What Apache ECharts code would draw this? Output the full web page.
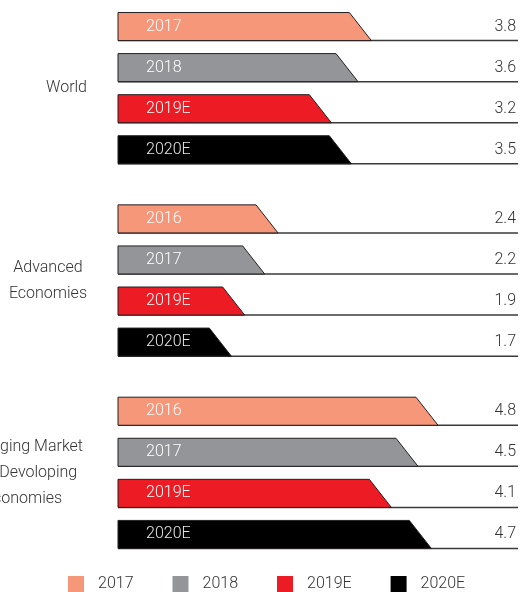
<!DOCTYPE html>
<html>
<head>
<meta charset="utf-8">
<script src="https://cdn.jsdelivr.net/npm/echarts@6/dist/echarts.min.js"></script>
<style>
  html, body { margin: 0; padding: 0; background: #fff; }
  #chart { width: 520px; height: 592px; }
</style>
</head>
<body>
<div id="chart"></div>
<script>
// groups on the left axis
const groups = ['World', 'Advanced\nEconomies', 'Emerging Market\nand Devoloping\nEconomies'];
// legend / series names
const seriesNames = ['2017', '2018', '2019E', '2020E'];
const colors = ['#F7977A', '#939598', '#ED1C24', '#000000'];
// text written inside each bar (per series, per group)
const barLabels = [
  ['2017', '2016', '2016'],
  ['2018', '2017', '2017'],
  ['2019E', '2019E', '2019E'],
  ['2020E', '2020E', '2020E']
];
// values (per series, per group)
const values = [
  [3.8, 2.4, 4.8],
  [3.6, 2.2, 4.5],
  [3.2, 1.9, 4.1],
  [3.5, 1.7, 4.7]
];

const font = 'Roboto';

function renderBar(params, api) {
  const slot = params.seriesIndex;
  const v = api.value(0);
  const g = api.value(1);
  const start = api.coord([0, g]);
  const end = api.coord([v, g]);
  const band = api.size([0, 1])[1];
  const step = band * 41 / 192;
  const h = band * 28 / 192;
  const yc = start[1] + (slot - 1.5) * step;
  const top = yc - h / 2;
  const bottom = yc + h / 2;
  const x0 = start[0];
  const x1 = end[0];
  const right = params.coordSys.x + params.coordSys.width;
  const slant = 22;
  return {
    type: 'group',
    children: [
      {
        type: 'line',
        shape: { x1: x0, y1: bottom, x2: right, y2: bottom },
        style: { stroke: '#3a3a3a', lineWidth: 1.5 }
      },
      {
        type: 'polygon',
        shape: {
          points: [[x0, top], [x1 - slant, top], [x1, bottom], [x0, bottom]]
        },
        style: { fill: colors[slot], stroke: '#231F20', lineWidth: 1 }
      },
      {
        type: 'text',
        style: {
          x: x0 + 28,
          y: yc,
          text: barLabels[slot][params.dataIndex],
          fill: slot === 3 ? '#e6e6e6' : '#ffffff',
          font: '300 16px ' + font,
          textAlign: 'left',
          textVerticalAlign: 'middle'
        }
      },
      {
        type: 'text',
        style: {
          x: right - 2,
          y: yc,
          text: v.toFixed(1),
          fill: '#333333',
          font: '300 16px ' + font,
          textAlign: 'right',
          textVerticalAlign: 'middle'
        }
      }
    ]
  };
}

const chart = echarts.init(document.getElementById('chart'));

const labelStyle = {
  align: 'center',
  fontFamily: font,
  fontWeight: 300,
  fontSize: 16,
  lineHeight: 26,
  color: '#333'
};

const legendText = {
  fontFamily: font,
  fontWeight: 300,
  fontSize: 16,
  color: '#333'
};

const option = {
  animation: false,
  legend: {
    data: seriesNames,
    left: 68,
    top: 576,
    padding: 0,
    icon: 'rect',
    itemWidth: 16,
    itemHeight: 16,
    itemGap: 39,
    selectedMode: false,
    itemStyle: { borderWidth: 0 },
    formatter: function (name) {
      // short names get extra room so the items sit evenly apart
      return (name.length < 5 ? '{s|' : '{t|') + name + '}';
    },
    textStyle: {
      rich: {
        t: Object.assign({ padding: [0, 0, 0, 9] }, legendText),
        s: Object.assign({ padding: [0, 11, 0, 9] }, legendText)
      }
    }
  },
  grid: {
    left: 118,
    right: 2,
    top: -8,
    bottom: 23,
    containLabel: false,
    outerBoundsMode: 'none'
  },
  xAxis: {
    type: 'value',
    min: 0,
    max: 6,
    show: false
  },
  yAxis: {
    type: 'category',
    inverse: true,
    data: groups,
    axisLine: { show: false },
    axisTick: { show: false },
    splitLine: { show: false },
    axisLabel: {
      margin: 31,
      formatter: function (val, idx) {
        const key = idx === 2 ? 'c' : 'a';
        return val.split('\n').map(function (s) { return '{' + key + '|' + s + '}'; }).join('\n');
      },
      rich: {
        a: labelStyle,
        c: Object.assign({}, labelStyle, { padding: [0, 4, 0, 0] })
      }
    }
  },
  series: seriesNames.map(function (name, i) {
    return {
      name: name,
      type: 'custom',
      itemStyle: { color: colors[i] },
      encode: { x: 0, y: 1 },
      data: values[i].map(function (v, g) { return [v, g]; }),
      renderItem: renderBar,
      silent: true
    };
  })
};

chart.setOption(option);
</script>
</body>
</html>
